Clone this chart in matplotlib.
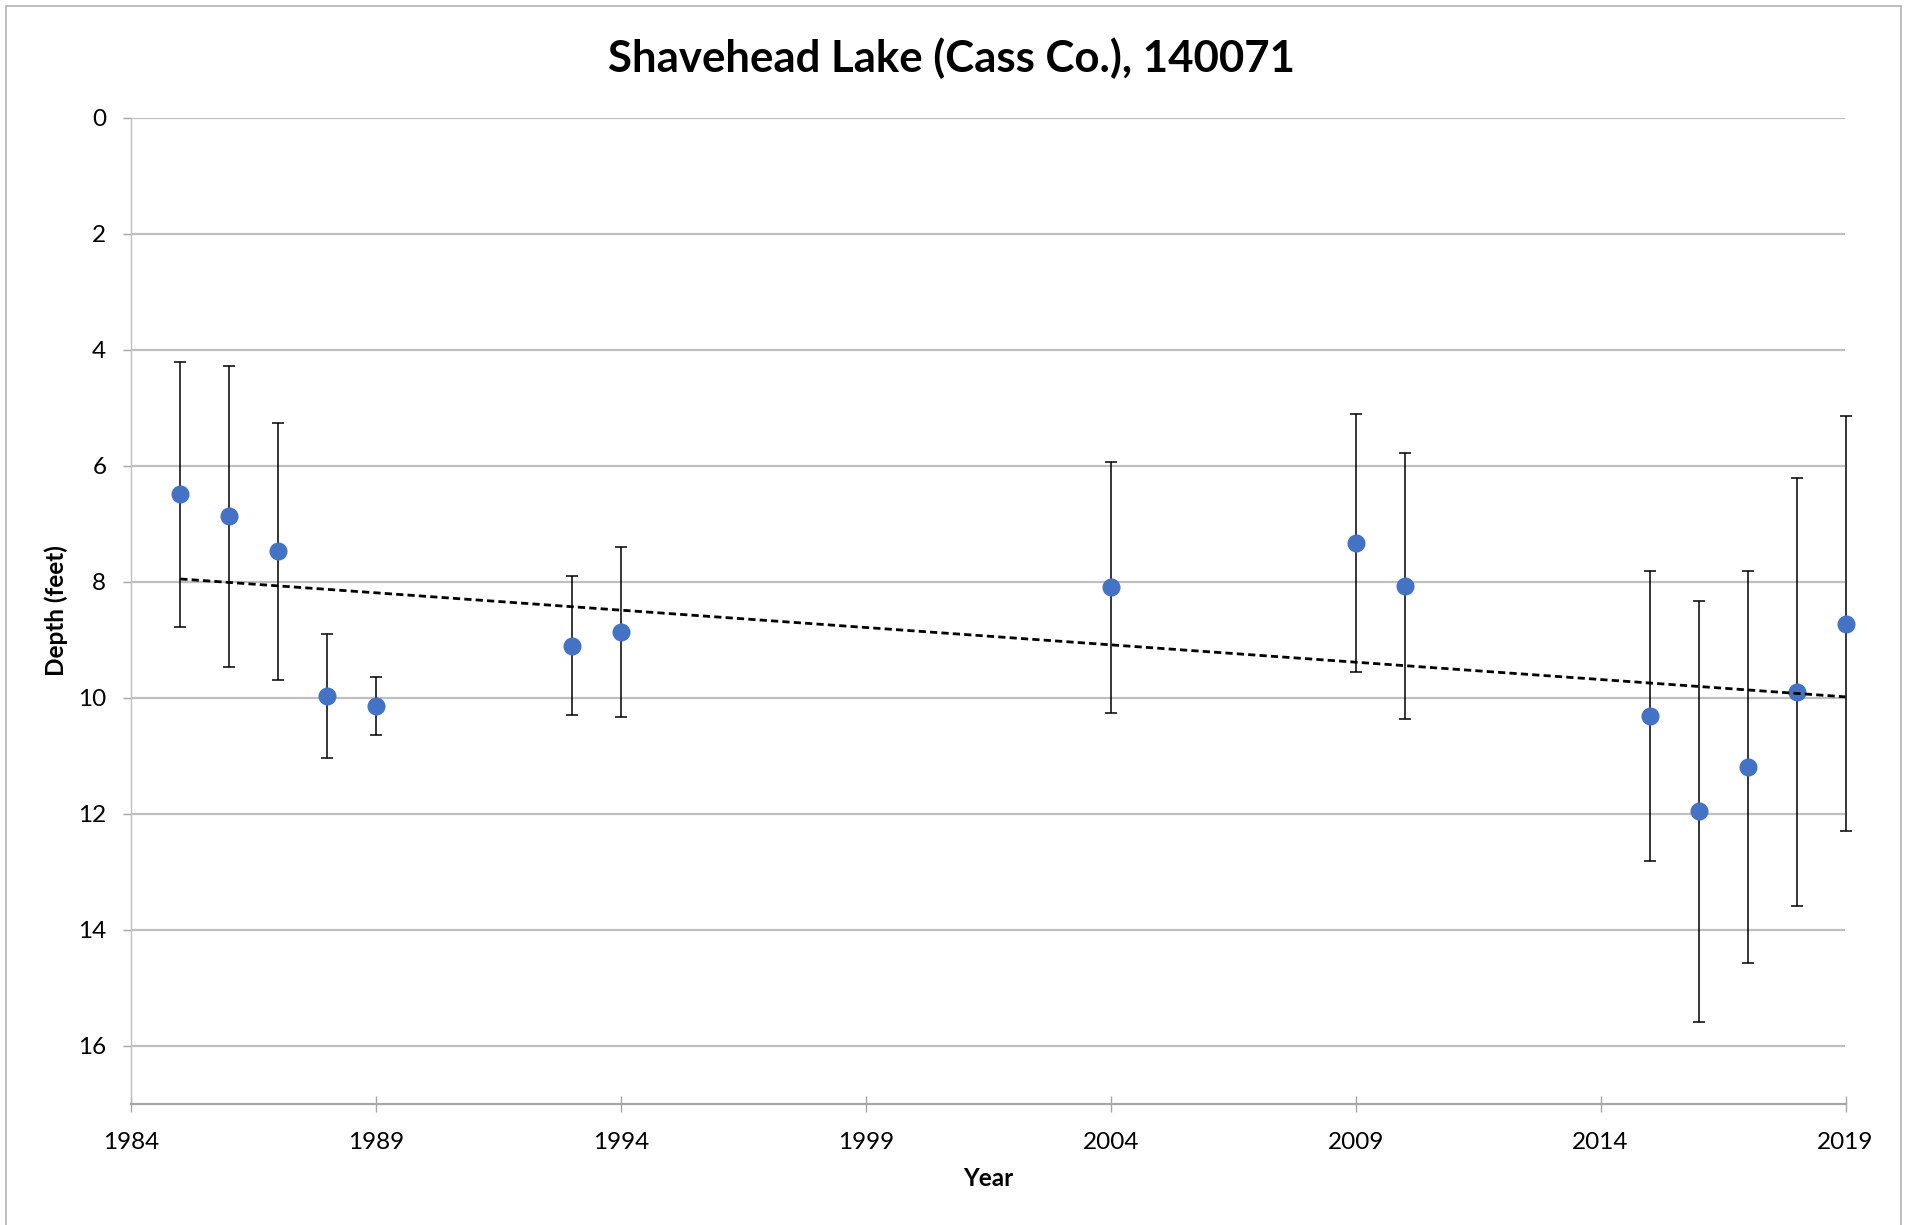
import matplotlib
matplotlib.use("Agg")
import matplotlib.pyplot as plt
import matplotlib.patches as mpatches
import numpy as np

# ---- data ----
years = [1985, 1986, 1987, 1988, 1989, 1993, 1994, 2004, 2009, 2010,
         2015, 2016, 2017, 2018, 2019]
depth = [6.49, 6.87, 7.47, 9.97, 10.14, 9.10, 8.86, 8.09, 7.33, 8.07,
         10.31, 11.95, 11.19, 9.90, 8.72]
err = [2.29, 2.60, 2.22, 1.07, 0.50, 1.20, 1.47, 2.16, 2.22, 2.29,
       2.50, 3.63, 3.38, 3.69, 3.58]
x_ticks = [1984, 1989, 1994, 1999, 2004, 2009, 2014, 2019]
y_ticks = [0, 2, 4, 6, 8, 10, 12, 14, 16]
title = "Shavehead Lake (Cass Co.), 140071"

plt.rcParams['font.family'] = ['Lato', 'DejaVu Sans']

W, H = 1906, 1225
fig = plt.figure(figsize=(W / 100, H / 100), dpi=100)
ax = fig.add_axes([131.3 / W, 1 - 1104 / H, (1845.5 - 131.3) / W, (1104 - 118) / H])

grid_c = '#bfbfbf'
ax.set_axisbelow(True)
ax.yaxis.grid(True, color=grid_c, linewidth=1.6)
ax.xaxis.grid(False)

cont = ax.errorbar(years, depth, yerr=err, fmt='o', color='#4472C4', markersize=12,
                   ecolor='black', elinewidth=1.1, capsize=4.5, capthick=1.1, zorder=3)
for art in cont.lines[1] + cont.lines[2]:
    art.set_clip_on(False)
cont.lines[0].set_clip_on(False)

# linear trend line
coef = np.polyfit(years, depth, 1)
tx = np.array([min(years), max(years)])
ax.plot(tx, np.polyval(coef, tx), color='black', linewidth=2.0,
        linestyle=(0, (2.6, 1.5)), zorder=4, clip_on=False)

ax.set_xlim(1984, 2019)
ax.set_ylim(17, 0)
ax.set_xticks(x_ticks)
ax.set_yticks(y_ticks)

for s in ['top', 'right']:
    ax.spines[s].set_visible(False)
ax.spines['left'].set_color('#bfbfbf')
ax.spines['left'].set_linewidth(1.0)
ax.spines['bottom'].set_color('#a6a6a6')
ax.spines['bottom'].set_linewidth(1.6)

ax.tick_params(axis='y', direction='out', length=6, width=1, color='#a6a6a6',
               pad=12, labelsize=17.5, labelcolor='black')
ax.tick_params(axis='x', direction='inout', length=12, width=1, color='#a6a6a6',
               pad=14, labelsize=17.5, labelcolor='black')

ax.set_xlabel('Year', fontsize=17.5, fontweight='bold')
ax.set_ylabel('Depth (feet)', fontsize=17.5, fontweight='bold')
ax.xaxis.set_label_coords((988 - 131.3) / 1714.2, (1104 - 1179) / 986)
ax.xaxis.label.set_va('center')
ax.yaxis.set_label_coords((56 - 131.3) / 1714.2, 0.5)
ax.yaxis.label.set_va('center')

fig.text(952 / W, 1 - 58 / H, title, ha='center', va='center',
         fontsize=31.5, fontweight='bold')

# outer chart border
fig.patches.append(mpatches.Rectangle((6 / W, -0.01), (1901 - 6) / W, 1.01 - 6 / H,
                                      transform=fig.transFigure, fill=False,
                                      edgecolor='#b3b3b3', linewidth=1.2))

fig.savefig('out.png', dpi=100, facecolor='white')
